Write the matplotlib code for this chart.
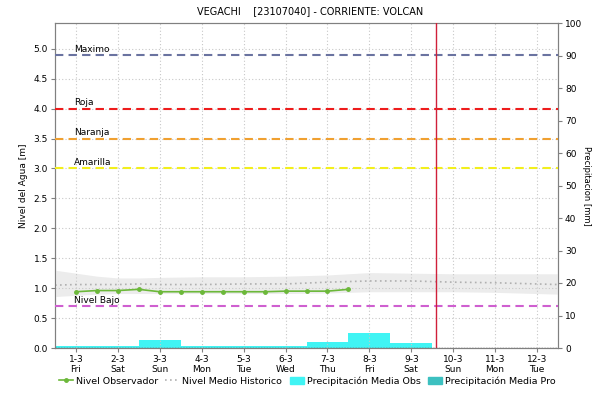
import matplotlib.pyplot as plt
import numpy as np
from matplotlib.lines import Line2D
from matplotlib.patches import Patch

plt.rcParams['font.family'] = ['DejaVu Sans']
plt.rcParams['font.size'] = 6.5

# data
dias = ['1-3\nFri', '2-3\nSat', '3-3\nSun', '4-3\nMon', '5-3\nTue', '6-3\nWed',
        '7-3\nThu', '8-3\nFri', '9-3\nSat', '10-3\nSun', '11-3\nMon', '12-3\nTue']
obs_x = [0, 0.5, 1, 1.5, 2, 2.5, 3, 3.5, 4, 4.5, 5, 5.5, 6, 6.5]
obs_y = [0.94, 0.96, 0.96, 0.98, 0.94, 0.94, 0.94, 0.94, 0.94, 0.94, 0.95, 0.95, 0.95, 0.98]
hist_x = [-0.5, 0, 0.5, 1, 1.5, 2, 3, 4, 5, 6, 7, 8, 9, 10, 11, 11.5]
hist_y = [1.05, 1.06, 1.06, 1.06, 1.07, 1.06, 1.06, 1.07, 1.07, 1.10, 1.12, 1.12, 1.10, 1.09, 1.07, 1.06]
hist_hi = [1.30, 1.25, 1.20, 1.17, 1.17, 1.18, 1.19, 1.19, 1.20, 1.22, 1.26, 1.25, 1.24, 1.24, 1.24, 1.24]
hist_lo = [0.86, 0.88, 0.90, 0.91, 0.91, 0.91, 0.91, 0.91, 0.91, 0.92, 0.94, 0.94, 0.94, 0.93, 0.91, 0.90]
prec_x = [0, 1, 2, 3, 4, 5, 6, 7, 8]
prec_obs = [0.5, 0.5, 2.4, 0.5, 0.5, 0.5, 1.9, 4.6, 1.5]
umbrales = [('Maximo', 4.9, '#6a73a0'), ('Roja', 4.0, '#ee1c1c'),
            ('Naranja', 3.5, '#f0a030'), ('Amarilla', 3.0, '#f2ef1c'),
            ('Nivel Bajo', 0.7, '#cf5fd0')]
ahora = 8.6

fig = plt.figure(figsize=(5.93, 4.03), dpi=100)
ax = fig.add_axes([55 / 593, 1 - 348 / 403, 503 / 593, 325 / 403])
ax2 = ax.twinx()
ax.set_zorder(2)
ax.patch.set_visible(False)

# precipitation on right axis
ax2.bar(prec_x, prec_obs, width=1.0, color='#40f4f4', align='center', zorder=2)
ax2.set_ylim(0, 100)
ax2.set_yticks(np.arange(0, 101, 10))
ax2.set_ylabel('Precipitacion [mm]', rotation=270, labelpad=6, fontsize=6)

# historical band and mean
ax.fill_between(hist_x, hist_lo, hist_hi, color='#ececec', lw=0, zorder=1)
ax.plot(hist_x, hist_y, color='#b0b0b0', ls=(0, (1, 2)), lw=1.2, zorder=2)

for nombre, val, col in umbrales:
    ax.axhline(val, color=col, ls=(0, (4, 2.5)), lw=1.5, zorder=3)
    ax.text(-0.05, val + 0.02, nombre, fontsize=6.5, va='bottom', ha='left', zorder=4)

ax.plot(obs_x, obs_y, color='#6cb83a', lw=1.2, marker='o', ms=2.5, zorder=5)
ax.axvline(ahora, color='#d0203a', lw=1, zorder=5)
ax.axhline(0, color='#555555', ls=(0, (1, 1)), lw=1, zorder=5)

ax.set_xlim(-0.5, 11.5)
ax.set_ylim(0, 5.43)
ax.set_xticks(range(len(dias)))
ax.set_xticklabels(dias)
ax.set_yticks(np.arange(0, 5.01, 0.5))
ax.yaxis.set_major_formatter(plt.FormatStrFormatter('%.1f'))
ax.set_ylabel('Nivel del Agua [m]', labelpad=4)
ax.grid(True, color='#c8c8c8', ls=(0, (1, 2)), lw=0.8)

for a in (ax, ax2):
    for s in a.spines.values():
        s.set_color('#808080')
    a.tick_params(length=3, color='#808080', pad=2)

fig.suptitle('VEGACHI    [23107040] - CORRIENTE: VOLCAN', x=0.523, y=0.985, fontsize=7)

# legend
handles = [Line2D([], [], color='#6cb83a', marker='o', ms=2.5, lw=1.2),
           Line2D([], [], color='#b0b0b0', ls=(0, (1, 2)), lw=1.2),
           Patch(color='#40f4f4'), Patch(color='#3cc0c0')]
labels = ['Nivel Observador', 'Nivel Medio Historico',
          'Precipitación Media Obs', 'Precipitación Media Pro']
fig.legend(handles, labels, loc='center', bbox_to_anchor=(0.518, 1 - 381 / 403),
           ncol=4, frameon=False, fontsize=6.8, handlelength=1.5, columnspacing=0.8,
           handletextpad=0.3, handleheight=0.9)

fig.savefig('out.png', dpi=100)
